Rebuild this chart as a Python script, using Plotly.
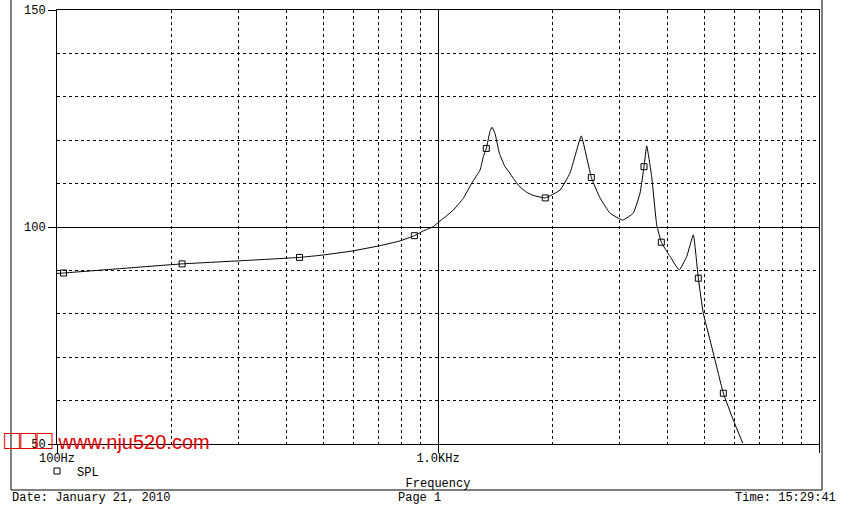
import plotly.graph_objects as go

# ---------------- data ----------------
freq_hz = [100, 104, 146, 213, 300, 433, 500, 598, 704, 795, 867, 915, 972, 1012, 1054,
           1097, 1165, 1226, 1289, 1315, 1339, 1369, 1386, 1411, 1449, 1499, 1545, 1573,
           1642, 1709, 1776, 1912, 2090, 2220, 2312, 2377, 2526, 2662, 2828, 3053, 3255,
           3390, 3473, 3530, 3638, 3750, 3856, 4064, 4298, 4496, 4679, 4822, 4970, 5175,
           5440, 5609, 5959, 6306]
spl_db = [89.3, 89.4, 90.4, 91.5, 92.2, 93.0, 93.55, 94.5, 95.7, 96.8, 98.0, 99.1, 100.1, 101.4, 102.6,
          103.9, 106.6, 110.1, 113.1, 116.2, 118.1, 122.0, 123.0, 121.6, 117.0, 113.9, 112.4, 111.3,
          109.2, 108.0, 107.3, 106.7, 108.5, 112.4, 117.7, 121.0, 111.4, 106.7, 103.2, 101.6, 103.2,
          107.8, 113.9, 118.7, 111.6, 100.5, 96.5, 93.2, 90.1, 93.2, 98.2, 88.2, 80.1, 74.0,
          66.3, 61.7, 55.5, 50.2]

marker_freq_hz = [104, 213, 433, 867, 1339, 1912, 2526, 3473, 3856, 4822, 5609]
marker_spl_db = [89.4, 91.5, 93.0, 98.0, 118.1, 106.7, 111.4, 113.9, 96.5, 88.2, 61.7]

x_tick_vals = [100, 1000, 10000]
x_tick_text = ["100Hz", "1.0KHz", "10KHz\u00a0\u00a0\u00a0\u00a0\u00a0"]
x_minor_vals = [200, 300, 400, 500, 600, 700, 800, 900,
                2000, 3000, 4000, 5000, 6000, 7000, 8000, 9000]
y_tick_vals = [50, 100, 150]
y_tick_text = ["50", "100", "150"]
y_minor_vals = [60, 70, 80, 90, 110, 120, 130, 140]

series_name = "SPL"
x_title = "Frequency"
date_text = "Date: January 21, 2010"
page_text = "Page 1"
time_text = "Time: 15:29:41"
watermark_boxes = "\u25a1\u25a1\u25a1"
watermark_url = "www.nju520.com"

# ---------------- layout helpers ----------------
W, H = 842, 510
L, R, T, B = 57, 23, 10, 66
PW, PH = W - L - R, H - T - B
BOTTOM = H - B


def px(x):
    return (x - L) / PW


def py(y):
    return (BOTTOM - y) / PH


MONO = "Liberation Mono, DejaVu Sans Mono, monospace"
FS = 12

fig = go.Figure()
fig.add_trace(go.Scatter(x=freq_hz, y=spl_db, mode="lines",
                         line=dict(color="black", width=1, shape="spline", smoothing=0.35),
                         showlegend=False, hoverinfo="skip"))
fig.add_trace(go.Scatter(x=marker_freq_hz, y=marker_spl_db, mode="markers",
                         name=series_name,
                         marker=dict(symbol="square-open", size=6, color="black",
                                     line=dict(width=1, color="black"))))

axis_common = dict(
    showline=True, linecolor="black", linewidth=1, mirror=True,
    ticks="outside", ticklen=8, tickwidth=1, tickcolor="black",
    showgrid=True, gridcolor="black", gridwidth=1, griddash="solid",
    zeroline=False, automargin=False,
    tickfont=dict(family=MONO, size=FS, color="black"),
)

fig.update_layout(
    width=W, height=H, autosize=False,
    margin=dict(l=L, r=R, t=T, b=B, pad=0),
    paper_bgcolor="white", plot_bgcolor="white",
    xaxis=dict(type="log", range=[2, 4], tickmode="array",
               tickvals=x_tick_vals, ticktext=x_tick_text,
               ticklabelstandoff=-5,
               minor=dict(tickvals=x_minor_vals, showgrid=True, gridcolor="black",
                          griddash="3px,3px", gridwidth=1, ticks=""),
               title=dict(text=x_title, font=dict(family=MONO, size=FS, color="black"),
                          standoff=13),
               **axis_common),
    yaxis=dict(range=[50, 150], tickmode="array",
               tickvals=y_tick_vals, ticktext=y_tick_text,
               minor=dict(tickvals=y_minor_vals, showgrid=True, gridcolor="black",
                          griddash="3px,3px", gridwidth=1, ticks=""),
               **axis_common),
    showlegend=True,
    legend=dict(x=px(37), y=py(471), xanchor="left", yanchor="middle",
                bgcolor="rgba(0,0,0,0)", borderwidth=0, itemwidth=30,
                font=dict(family=MONO, size=FS, color="black")),
)

# outer page frame
frame = dict(xref="paper", yref="paper", line=dict(color="black", width=1))
fig.add_shape(type="line", x0=px(11), x1=px(11), y0=py(-2), y1=py(490), **frame)
fig.add_shape(type="line", x0=px(822), x1=px(822), y0=py(-2), y1=py(490), **frame)
fig.add_shape(type="line", x0=px(11), x1=px(822), y0=py(490), y1=py(490), **frame)

foot = dict(xref="paper", yref="paper", showarrow=False, xanchor="left",
            yanchor="middle", font=dict(family=MONO, size=FS, color="black"))
fig.add_annotation(text=date_text, x=px(10), y=py(498), **foot)
fig.add_annotation(text=page_text, x=px(396), y=py(498), **foot)
fig.add_annotation(text=time_text, x=px(733), y=py(498), **foot)

fig.add_annotation(
    text=("<span style='font-size:27px'>" + watermark_boxes + "</span> " + watermark_url),
    x=px(2), y=py(440), xref="paper", yref="paper",
    showarrow=False, xanchor="left", yanchor="middle",
    font=dict(family="Liberation Sans, DejaVu Sans, sans-serif", size=20, color="#e00000"))

fig.write_html("out.html", config={"displayModeBar": False},
               post_script="document.body.style.margin='0';document.body.style.padding='0';"
                           "document.body.style.overflow='hidden';")
